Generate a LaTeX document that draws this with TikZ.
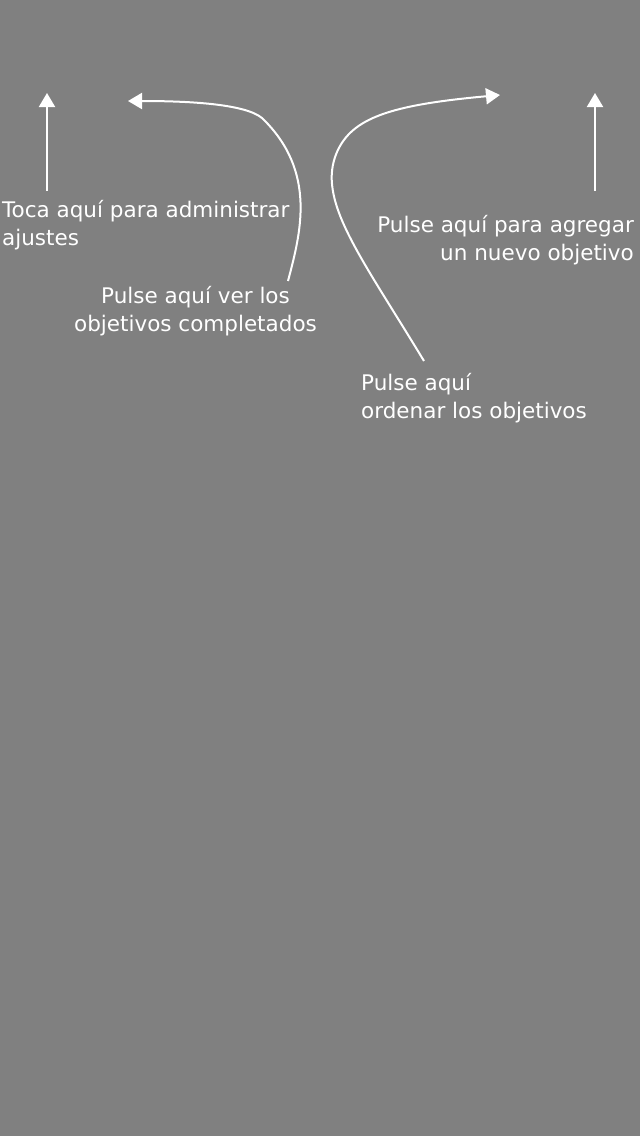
\documentclass[tikz,border=0pt]{standalone}
\usepackage{fontspec}
\setmainfont{DejaVu Sans}
\usetikzlibrary{arrows.meta}
\definecolor{backdrop}{HTML}{808080}
\tikzset{
  hint/.style={text=white, inner sep=0pt, font=\fontsize{21.5}{28}\selectfont},
  pointer/.style={draw=white, line width=2pt, -{Triangle[width=16pt,length=14pt]}}
}
\begin{document}
\begin{tikzpicture}[x=1pt, y=-1pt]
\fill[backdrop] (0,0) rectangle (640,1136);
\node[hint, anchor=base west, align=left] (ajustes) at (2,245.3) {Toca aquí para administrar\\ajustes};
\node[hint, anchor=base, align=center] (completados) at (195.5,331.5) {Pulse aquí ver los\\objetivos completados};
\node[hint, anchor=base east, align=right] (agregar) at (634,260.5) {Pulse aquí para agregar\\un nuevo objetivo};
\node[hint, anchor=base west, align=left] (ordenar) at (361,418.5) {Pulse aquí\\ordenar los objetivos};
\coordinate (ajustesTip) at (47,93);
\coordinate (completadosTip) at (128,101);
\coordinate (ordenarTip) at (500,95);
\coordinate (agregarTip) at (595,93);
\draw[pointer] (ajustesTip |- 0,191) -- (ajustesTip);
\draw[pointer] (agregarTip |- 0,191) -- (agregarTip);
\draw[pointer] (288,281) .. controls (300,235) and (318,172) .. (262,118)
  .. controls (245,104) and (190,101) .. (completadosTip);
\draw[pointer] (424,361) .. controls (360,255) and (316,200) .. (337,152)
  .. controls (352,118) and (390,105) .. (ordenarTip);
\end{tikzpicture}
\end{document}
